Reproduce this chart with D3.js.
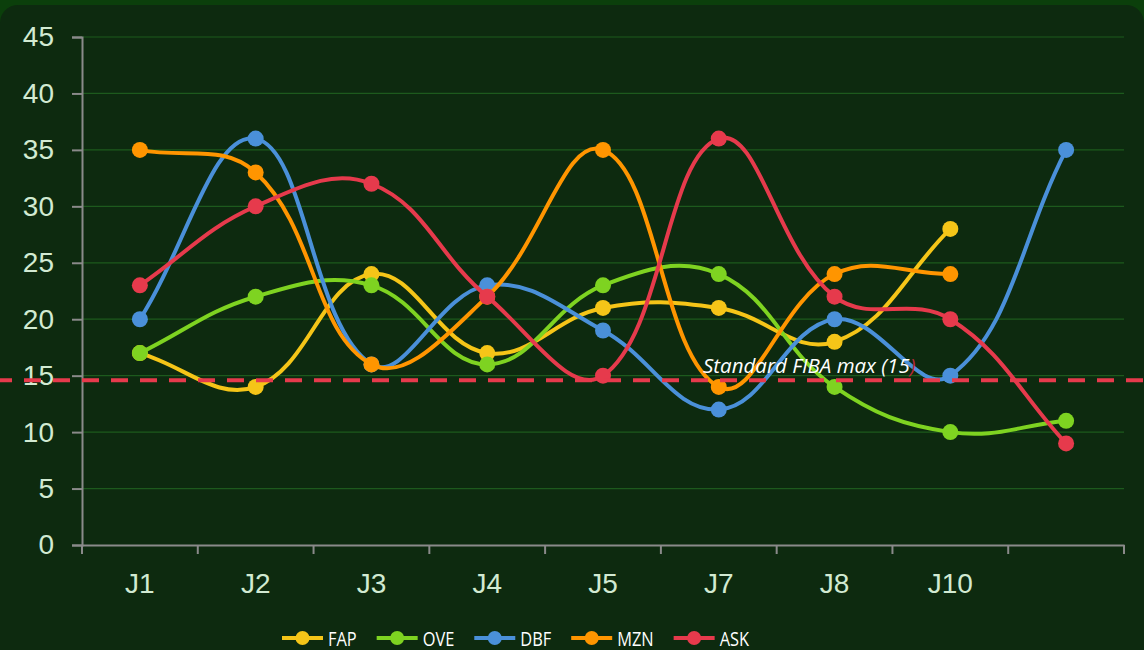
<!DOCTYPE html>
<html>
<head>
<meta charset="utf-8">
<script src="https://cdn.jsdelivr.net/npm/d3@7"></script>
<style>
  html, body { margin: 0; padding: 0; background: #0b3f0b; overflow: hidden; }
  svg { display: block; }
</style>
</head>
<body>
<svg id="chart" width="1144" height="650"></svg>
<script>
// data
var rounds = ['J1', 'J2', 'J3', 'J4', 'J5', 'J7', 'J8', 'J10', '']
var yTicks = [0, 5, 10, 15, 20, 25, 30, 35, 40, 45]
var fap = [17, 14, 24, 17, 21, 21, 18, 28, null]
var ove = [17, 22, 23, 16, 23, 24, 14, 10, 11]
var dbf = [20, 36, 16, 23, 19, 12, 20, 15, 35]
var mzn = [35, 33, 16, 22, 35, 14, 24, 24, null]
var ask = [23, 30, 32, 22, 15, 36, 22, 20, 9]
var fibaMax = 14.6
var fibaLabel = 'Standard FIBA max (15'

var series = [
  { name: 'FAP', values: fap, color: '#f5c518' },
  { name: 'OVE', values: ove, color: '#7ed321' },
  { name: 'DBF', values: dbf, color: '#4a90d9' },
  { name: 'MZN', values: mzn, color: '#ff9500' },
  { name: 'ASK', values: ask, color: '#e63a4c' }
]

var dims = { width: 1144, height: 650, margin: { top: 37, right: 20, bottom: 105, left: 82 } }

var svg = d3.select('#chart')

// panel
svg.append('rect')
  .attr('x', 0).attr('y', 5)
  .attr('width', dims.width).attr('height', dims.height + 20)
  .attr('rx', 18)
  .attr('fill', '#0d2a0f')

var xScale = d3.scaleBand()
  .domain(rounds.map((d, i) => i))
  .range([dims.margin.left, dims.width - dims.margin.right])
var yScale = d3.scaleLinear()
  .domain([0, 45])
  .range([dims.height - dims.margin.bottom, dims.margin.top])

function cx(i) { return xScale(i) + xScale.bandwidth() / 2 }

// grid
svg.append('g').selectAll('line')
  .data(yTicks.filter(d => d > 0))
  .enter().append('line')
  .attr('x1', dims.margin.left).attr('x2', dims.width - dims.margin.right)
  .attr('y1', d => yScale(d)).attr('y2', d => yScale(d))
  .attr('stroke', '#1d5a1d').attr('stroke-width', 1.2)

// y axis
var yAxis = svg.append('g')
  .attr('transform', 'translate(' + dims.margin.left + ',0)')
  .call(d3.axisLeft(yScale).tickValues(yTicks).tickSize(10).tickPadding(18))
yAxis.select('.domain').attr('stroke', '#8a8a8a').attr('stroke-width', 2)
yAxis.selectAll('.tick line').attr('stroke', '#8a8a8a').attr('stroke-width', 2)
yAxis.selectAll('.tick text')
  .attr('fill', '#d2ead2')
  .style('font-family', 'Liberation Sans, Arial, sans-serif')
  .style('font-size', '28px')

// x axis
var xAxis = svg.append('g')
  .attr('transform', 'translate(0,' + yScale(0) + ')')
  .call(d3.axisBottom(xScale).tickValues([]).tickSize(0).tickSizeOuter(0))
xAxis.select('.domain').attr('stroke', '#8a8a8a').attr('stroke-width', 2)
var bounds = d3.range(rounds.length + 1).map(i => i < rounds.length ? xScale(i) : xScale.range()[1])
xAxis.selectAll('line.tk')
  .data(bounds)
  .enter().append('line')
  .attr('class', 'tk')
  .attr('x1', d => d).attr('x2', d => d)
  .attr('y1', 0).attr('y2', 9)
  .attr('stroke', '#8a8a8a').attr('stroke-width', 2)
xAxis.selectAll('text.lbl')
  .data(rounds)
  .enter().append('text')
  .attr('class', 'lbl')
  .attr('x', (d, i) => cx(i))
  .attr('y', 48)
  .attr('text-anchor', 'middle')
  .attr('fill', '#d2ead2')
  .style('font-family', 'Liberation Sans, Arial, sans-serif')
  .style('font-size', '28px')
  .text(d => d)

// chart.js style spline through the points
function splinePath(pts, t) {
  var p = d3.path()
  var cps = pts.map(function (cur, i) {
    var prev = pts[i - 1] || cur, next = pts[i + 1] || cur
    var d01 = Math.hypot(cur[0] - prev[0], cur[1] - prev[1])
    var d12 = Math.hypot(next[0] - cur[0], next[1] - cur[1])
    var s01 = d01 / (d01 + d12) || 0, s12 = d12 / (d01 + d12) || 0
    var fa = t * s01, fb = t * s12
    return {
      prev: [cur[0] - fa * (next[0] - prev[0]), cur[1] - fa * (next[1] - prev[1])],
      next: [cur[0] + fb * (next[0] - prev[0]), cur[1] + fb * (next[1] - prev[1])]
    }
  })
  pts.forEach(function (pt, i) {
    if (i == 0) p.moveTo(pt[0], pt[1])
    else p.bezierCurveTo(cps[i - 1].next[0], cps[i - 1].next[1], cps[i].prev[0], cps[i].prev[1], pt[0], pt[1])
  })
  return p.toString()
}

var gSeries = svg.append('g')
series.forEach(function (s) {
  var pts = []
  s.values.forEach(function (v, i) { if (v != null) pts.push([cx(i), yScale(v)]) })
  var g = gSeries.append('g')
  g.append('path')
    .attr('d', splinePath(pts, 0.4))
    .attr('fill', 'none')
    .attr('stroke', s.color)
    .attr('stroke-width', 4)
  g.selectAll('circle')
    .data(pts)
    .enter().append('circle')
    .attr('cx', d => d[0]).attr('cy', d => d[1])
    .attr('r', 8)
    .attr('fill', s.color)
})

// reference line
svg.append('line')
  .attr('x1', 0).attr('x2', dims.width)
  .attr('y1', yScale(fibaMax)).attr('y2', yScale(fibaMax))
  .attr('stroke', '#e63a4c')
  .attr('stroke-width', 4)
  .attr('stroke-dasharray', '17 12')
  .attr('stroke-dashoffset', 5)

var note = svg.append('text')
  .attr('x', 703)
  .attr('y', yScale(fibaMax) - 7)
  .attr('fill', '#ffffff')
  .style('font-family', 'Open Sans, sans-serif')
  .style('font-style', 'italic')
  .style('font-size', '20.5px')
note.append('tspan').text(fibaLabel)
note.append('tspan').attr('fill', '#b8283a').text(')')

// legend
var legend = svg.append('g')
var lx = 282
series.forEach(function (s) {
  var item = legend.append('g').attr('transform', 'translate(' + lx + ',638)')
  item.append('line')
    .attr('x1', 0).attr('x2', 41)
    .attr('stroke', s.color).attr('stroke-width', 4)
  item.append('circle')
    .attr('cx', 20.5).attr('r', 7)
    .attr('fill', s.color)
  var txt = item.append('text')
    .attr('transform', 'translate(46,8) scale(0.82,1)')
    .attr('fill', '#ffffff')
    .style('font-family', 'Open Sans, sans-serif')
    .style('font-size', '20px')
    .text(s.name)
  lx += 46 + txt.node().getComputedTextLength() * 0.82 + 20
})
</script>
</body>
</html>
